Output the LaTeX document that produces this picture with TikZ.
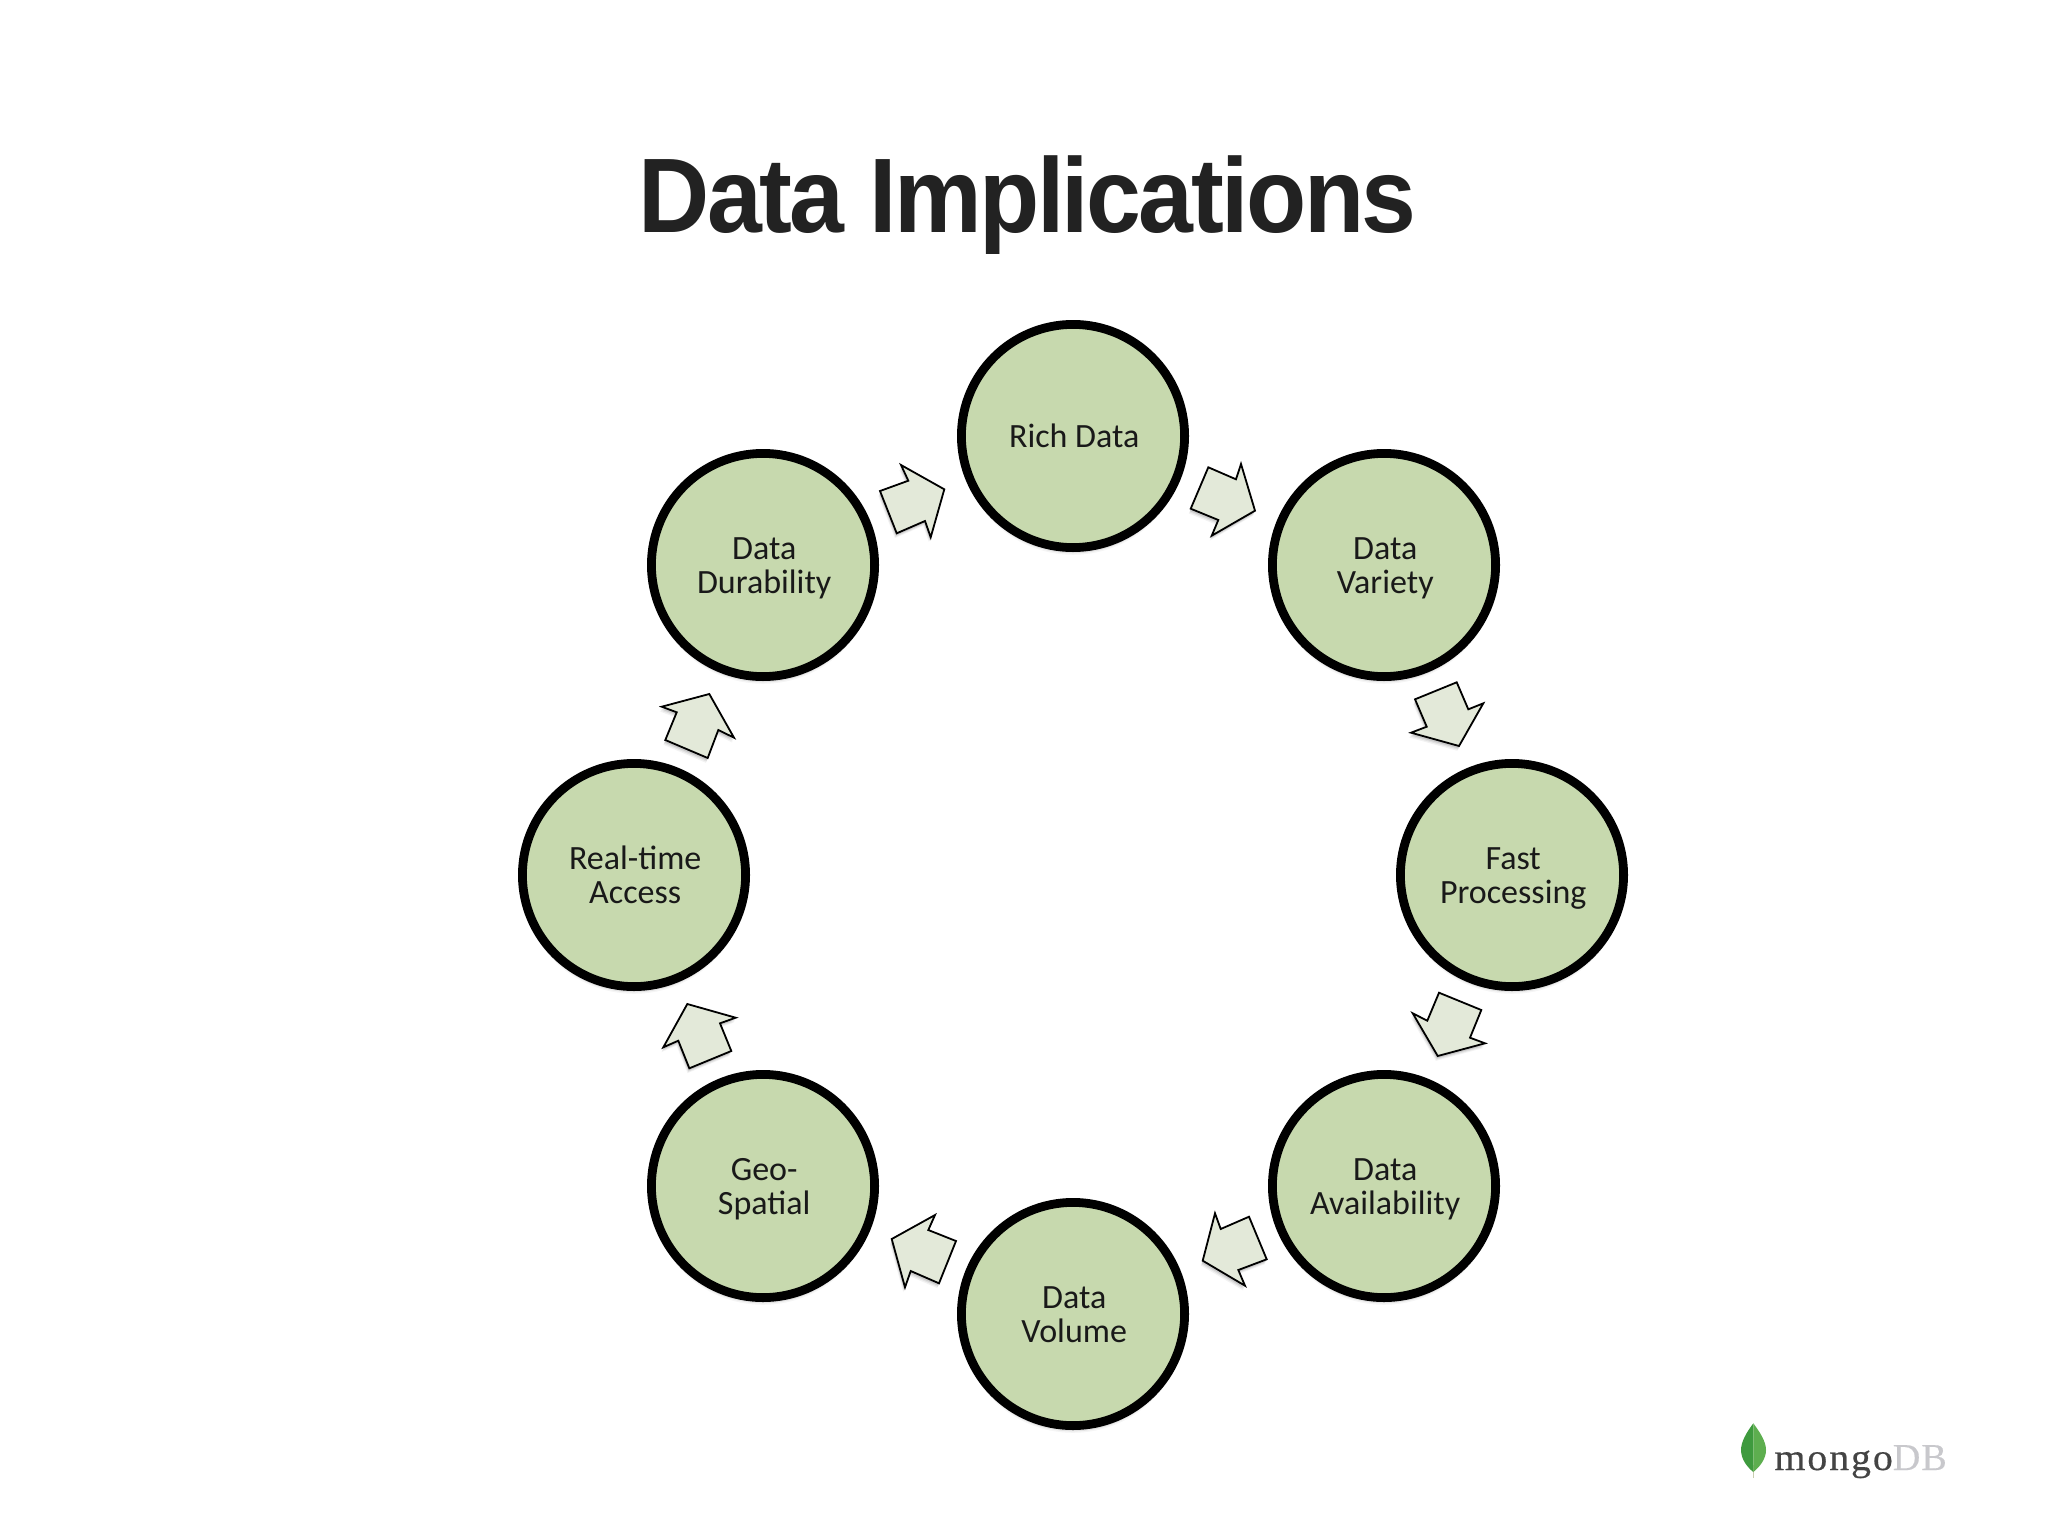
\documentclass[tikz,border=0pt]{standalone}
\usepackage{fontspec}
\usetikzlibrary{shadows}
\setmainfont{Carlito}
\newfontfamily\tifont[Ligatures={Common,Rare}]{Carlito}
\newfontfamily\titlefont[FakeStretch=0.93,LetterSpace=-2.4]{Liberation Sans Bold}
\newfontfamily\logofonta[LetterSpace=5,FakeStretch=1.05,FakeBold=0.5]{Liberation Serif}
\newfontfamily\logofontb[LetterSpace=3,FakeBold=0.3]{Liberation Serif}
\newcommand{\lnstrut}{\hspace*{1.2pt}\vphantom{Agy}}
\newcommand{\firststrut}{\hspace*{1.2pt}\vphantom{Agy}\rule{0pt}{14.6pt}}
\definecolor{cyclefill}{HTML}{C7D9AE}
\definecolor{arrowfill}{HTML}{E3E9D9}
\definecolor{titleink}{HTML}{222222}
\definecolor{logodark}{HTML}{444444}
\definecolor{logolight}{HTML}{C8C8CC}
\definecolor{leafdark}{HTML}{3E9A3E}
\definecolor{leaflight}{HTML}{5DAE4F}
\definecolor{stemcol}{HTML}{C9CDB0}
\tikzset{
  softshade/.style={
    drop shadow={shadow xshift=0pt,shadow yshift=-3pt,shadow scale=1.01,opacity=.04,fill=black},
    drop shadow={shadow xshift=0pt,shadow yshift=-2.4pt,shadow scale=1.008,opacity=.07,fill=black},
    drop shadow={shadow xshift=0pt,shadow yshift=-1.8pt,shadow scale=1.0,opacity=.10,fill=black},
    drop shadow={shadow xshift=0pt,shadow yshift=-1.2pt,shadow scale=1.0,opacity=.14,fill=black}},
  arrowshade/.style={
    drop shadow={shadow xshift=-.9pt,shadow yshift=-2.4pt,shadow scale=1.0,opacity=.05,fill=black},
    drop shadow={shadow xshift=-.6pt,shadow yshift=-1.8pt,shadow scale=1.0,opacity=.07,fill=black},
    drop shadow={shadow xshift=-.4pt,shadow yshift=-1.2pt,shadow scale=1.0,opacity=.10,fill=black}},
  cyclenode/.style={circle,draw=black,line width=4.4pt,fill=cyclefill,minimum size=111.6pt,inner sep=0pt,
    align=center,font=\fontsize{17}{17}\selectfont,text=black!90,softshade},
  blockarrow/.style={draw=black,line width=.9pt,line join=miter,miter limit=10,fill=arrowfill,arrowshade},
}
\begin{document}
\begin{tikzpicture}[x=.5pt,y=-.5pt]
\useasboundingbox (0,0) rectangle (2048,1536);
\node[anchor=base,text=titleink,font=\titlefont\fontsize{53}{53}\selectfont,inner sep=0pt] (title) at (1027.5,232) {Data Implications};

\node[cyclenode] (rich)  at (1073,436)  {\firststrut Rich Data};
\node[cyclenode] (vari)  at (1384,565)  {\firststrut Data\\\lnstrut Variety};
\node[cyclenode] (fast)  at (1512,875)  {\firststrut Fast\\\lnstrut Processing};
\node[cyclenode] (avail) at (1384,1186) {\firststrut Data\\\lnstrut Availability};
\node[cyclenode] (vol)   at (1073,1314) {\firststrut Data\\\lnstrut Volume};
\node[cyclenode] (geo)   at (763,1186)  {\firststrut Geo-\\\lnstrut{\tifont Spatial}};
\node[cyclenode] (real)  at (634,875)   {\firststrut{\tifont Real-time}\\\lnstrut Access};
\node[cyclenode] (dura)  at (763,565)   {\firststrut Data\\\lnstrut Durability};

\draw[blockarrow] (1208.3,467.3)--(1236,479.3)--(1241,464)--(1255,510.7)--(1211.7,535.7)--(1218.3,520)--(1190.7,508.7)--cycle;
\draw[blockarrow] (1456.7,682.3)--(1468.3,709.3)--(1483.3,703.3)--(1459,746)--(1411,732.7)--(1426.7,726.7)--(1415,699.3)--cycle;
\draw[blockarrow] (1439,992.7)--(1481.3,1010)--(1470,1037.7)--(1485,1043.3)--(1437.7,1056)--(1412.7,1013.3)--(1427.3,1020.7)--cycle;
\draw[blockarrow] (1249,1216.7)--(1266.7,1259.3)--(1238.3,1270)--(1245,1285.7)--(1202.7,1260.7)--(1215,1213.3)--(1220.7,1229)--cycle;
\draw[blockarrow] (935,1215)--(928.3,1230)--(956,1241)--(939,1283.3)--(910.7,1271)--(905,1287.3)--(891.7,1239)--cycle;
\draw[blockarrow] (687.3,1004)--(735.7,1017.7)--(720,1023.3)--(731.3,1051)--(689.3,1068.3)--(678.3,1040.7)--(663.3,1047.3)--cycle;
\draw[blockarrow] (661.7,706.7)--(709.3,694)--(734,737.7)--(718.3,730)--(707.7,758)--(665.3,740)--(676.7,712.3)--cycle;
\draw[blockarrow] (880,491)--(908.3,480.7)--(901,465)--(944.3,489.3)--(930.7,537.3)--(925,521)--(896.7,533.3)--cycle;

% logo
\draw[stemcol,line width=.8pt] (1753.3,1465) -- (1753.3,1478);
\fill[leafdark] (1753.3,1423.3) .. controls (1746,1433) and (1741,1442) .. (1741,1450) .. controls (1741,1459) and (1747,1467) .. (1753.3,1472) -- cycle;
\fill[leaflight] (1753.3,1423.3) .. controls (1760.6,1433) and (1766,1442) .. (1766,1450) .. controls (1766,1459) and (1759.6,1467) .. (1753.3,1472) -- cycle;
\node[anchor=base west,inner sep=0pt,font=\fontsize{19}{19}\selectfont] (logo) at (1774,1470) {{\logofonta\color{logodark}mongo}{\logofontb\color{logolight}DB}};
\end{tikzpicture}
\end{document}
